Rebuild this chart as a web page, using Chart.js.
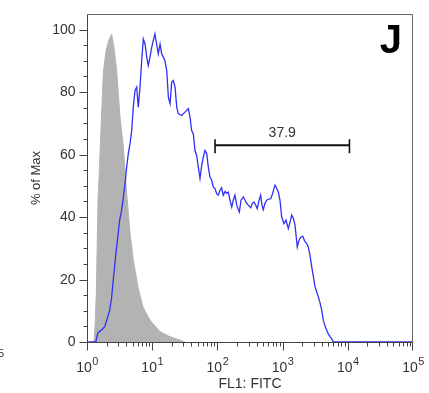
<!DOCTYPE html>
<html><head><meta charset="utf-8">
<script src="https://cdn.jsdelivr.net/npm/chart.js@4/dist/chart.umd.min.js"></script>
<style>html,body{margin:0;padding:0;background:#fff;}canvas{display:block;}</style>
</head><body>
<canvas id="c" width="429" height="393"></canvas>
<script>
// ---- data ----
const grayX = [1.28, 1.33, 1.39, 1.43, 1.475, 1.55, 1.62, 1.70, 1.78, 1.96, 2.15, 2.39, 2.6, 2.85, 3.21, 3.61, 4.06, 4.57, 5.13, 6.06, 7.22, 9.25, 13.2, 18.7, 26.7, 32];
const grayY = [0, 5, 15.6, 30, 45.4, 55, 65.5, 76, 86, 93.3, 96.5, 98.6, 94, 86.9, 72, 62.4, 47.6, 34.8, 26.2, 17.6, 11.2, 7, 3.3, 1.7, 0.6, 0];

const blueX = [1.05, 1.36, 1.47, 1.7, 1.87, 2.05, 2.23, 2.38, 2.5, 2.65, 2.81, 3.0, 3.17, 3.38, 3.57, 3.83, 4.06, 4.30, 4.57, 4.85, 5.13, 5.45, 5.78, 6.12, 6.50, 6.90, 7.31, 7.76, 8.24, 8.71, 9.25, 9.82, 10.4, 11.0, 11.7, 12.4, 13.2, 14.0, 14.8, 15.7, 16.7, 17.7, 18.8, 19.9, 21.1, 22.4, 23.8, 25.1, 28.3, 31.8, 35.8, 38.0, 40.3, 42.7, 45.3, 48.1, 51.0, 54.1, 57.4, 60.8, 64.5, 68.5, 72.5, 77.0, 81.8, 86.5, 91.8, 97.5, 103, 110, 116, 123, 131, 139, 147, 156, 166, 175, 186, 198, 209, 217, 230, 250, 265, 281, 298, 324, 343, 364, 387, 409, 435, 461, 483, 506, 537, 570, 604, 658, 697, 738, 764, 812, 859, 912, 968, 1050, 1128, 1223, 1298, 1377, 1459, 1549, 1680, 1785, 1895, 2033, 2181, 2342, 2478, 2631, 2793, 2958, 3141, 3335, 3532, 3750, 3981, 4211, 4471, 4746, 5023, 5333, 5662, 5998, 100000];
const blueY = [0, 0, 2.9, 4, 4.9, 7.5, 10.2, 14, 18.8, 24, 29.4, 34.5, 39, 42, 45.4, 50.8, 56, 60.3, 63.5, 67.7, 75.2, 80.5, 81.6, 75.2, 81.6, 90.1, 97.0, 95.4, 91.2, 88.5, 91.2, 94.3, 96.5, 98.6, 95.4, 92.2, 95.4, 92.2, 91.2, 90.1, 86.9, 78.4, 76.3, 83.2, 83.7, 81.6, 75.2, 73.1, 72.5, 73.6, 74.7, 72, 67.7, 66.7, 61.3, 59.7, 56, 52.4, 56.5, 59.2, 61.3, 60.4, 56, 52.8, 51.8, 49.6, 49.1, 47.5, 47, 48.6, 49.4, 47, 48.2, 47.6, 48, 45.4, 43.2, 45.4, 47, 43.8, 42.4, 41.6, 45.4, 46.4, 45.4, 44.4, 43.8, 43, 44.4, 44.8, 43.8, 42.7, 45.4, 47, 43.8, 42.4, 44.4, 45.4, 45.7, 45.9, 47.3, 49.2, 50.2, 49.2, 48, 45.4, 40, 37.9, 39, 36.3, 38.3, 40.6, 39.6, 37.4, 30.4, 32.6, 33.5, 33.9, 32.3, 31.5, 30.4, 27.8, 24.1, 21.1, 17.7, 16, 14.5, 12.5, 10.2, 7.0, 5.1, 3.8, 2.6, 1.7, 1.0, 0, 0];

const yTickValues = [0, 20, 40, 60, 80, 100];
const yTickLabels = ["0", "20", "40", "60", "80", "100"];
const xTickValues = [1, 10, 100, 1000, 10000, 100000];
const xTickBase = ["10", "10", "10", "10", "10", "10"];
const xTickExp = ["0", "1", "2", "3", "4", "5"];
const xTitle = "FL1: FITC";
const yTitle = "% of Max";
const gateRange = [92, 10600];
const gateLevel = 63;
const gateLabel = "37.9";
const panelLabel = "J";

const pts = (xs, ys) => xs.map((v, i) => ({x: v, y: ys[i]}));

const FONT = '"Liberation Sans", Arial, sans-serif';

const decor = {
  id: 'decor',
  afterDatasetsDraw(chart) {
    const {ctx, chartArea: a, scales: {x, y}} = chart;
    ctx.save();
    const L = Math.round(a.left) + 0.5, R = Math.round(a.right) - 0.5;
    const T = Math.round(a.top) + 0.5, B = Math.round(a.bottom) + 0.5;
    ctx.strokeStyle = '#666'; ctx.lineWidth = 1;
    ctx.beginPath();
    ctx.moveTo(L, T); ctx.lineTo(R, T); ctx.lineTo(R, B);
    ctx.stroke();
    ctx.strokeStyle = '#444';
    ctx.beginPath();
    ctx.moveTo(L, T); ctx.lineTo(L, B); ctx.lineTo(R, B);
    ctx.stroke();
    ctx.beginPath();
    for (let v = 0; v <= 100; v += 5) {
      const py = Math.round(y.getPixelForValue(v)) + 0.5;
      const len = (v % 20 === 0) ? 8 : 4;
      ctx.moveTo(L, py); ctx.lineTo(L - len, py);
    }
    for (let d = 0; d < 5; d++) {
      for (let m = 1; m <= 9; m++) {
        const v = m * Math.pow(10, d);
        const px = Math.round(x.getPixelForValue(v)) + 0.5;
        const len = (m === 1) ? 8 : 4;
        ctx.moveTo(px, B); ctx.lineTo(px, B + len);
      }
    }
    {
      const px = Math.round(x.getPixelForValue(1e5)) - 0.5;
      ctx.moveTo(px, B); ctx.lineTo(px, B + 8);
    }
    ctx.stroke();
    ctx.fillStyle = '#333';
    ctx.font = '14px ' + FONT;
    ctx.textAlign = 'right'; ctx.textBaseline = 'middle';
    yTickValues.forEach((v, i) => {
      ctx.fillText(yTickLabels[i], L - 12, y.getPixelForValue(v) + 0.5);
    });
    ctx.textBaseline = 'alphabetic'; ctx.textAlign = 'left';
    xTickValues.forEach((v, i) => {
      ctx.font = '14px ' + FONT;
      const wb = ctx.measureText(xTickBase[i]).width;
      ctx.font = '11px ' + FONT;
      const ws = ctx.measureText(xTickExp[i]).width;
      const px = x.getPixelForValue(v);
      const sx = px - (wb + ws) / 2;
      ctx.font = '14px ' + FONT;
      ctx.fillText(xTickBase[i], sx, 372);
      ctx.font = '11px ' + FONT;
      ctx.fillText(xTickExp[i], sx + wb + 0.5, 365);
    });
    ctx.font = '14px ' + FONT;
    ctx.textAlign = 'center';
    ctx.fillText(xTitle, (a.left + a.right) / 2, 388);
    ctx.save();
    ctx.translate(40, (a.top + a.bottom) / 2);
    ctx.rotate(-Math.PI / 2);
    ctx.font = '13px ' + FONT;
    ctx.fillText(yTitle, 0, 0);
    ctx.restore();
    const gx1 = x.getPixelForValue(gateRange[0]);
    const gx2 = x.getPixelForValue(gateRange[1]);
    const gy = y.getPixelForValue(gateLevel);
    ctx.strokeStyle = '#111';
    ctx.lineWidth = 2;
    ctx.beginPath(); ctx.moveTo(gx1, gy); ctx.lineTo(gx2, gy); ctx.stroke();
    ctx.lineWidth = 1.6;
    ctx.beginPath();
    ctx.moveTo(gx1, gy - 6); ctx.lineTo(gx1, gy + 8);
    ctx.moveTo(gx2, gy - 6); ctx.lineTo(gx2, gy + 8);
    ctx.stroke();
    ctx.fillStyle = '#333';
    ctx.font = '14px ' + FONT;
    ctx.textAlign = 'center';
    ctx.fillText(gateLabel, (gx1 + gx2) / 2, gy - 8);
    ctx.fillStyle = '#000';
    ctx.font = 'bold 40px ' + FONT;
    ctx.textAlign = 'right';
    ctx.fillText(panelLabel, a.right - 11, 53);
    ctx.fillStyle = '#333';
    ctx.font = '11px ' + FONT;
    ctx.textAlign = 'left';
    ctx.fillText("5", -2, 357);
    ctx.restore();
  }
};

new Chart(document.getElementById('c'), {
  type: 'line',
  data: {
    datasets: [
      {
        label: 'sample',
        data: pts(blueX, blueY),
        borderColor: '#3030f5',
        borderWidth: 1.3,
        pointRadius: 0,
        fill: false,
        tension: 0
      },
      {
        label: 'control',
        data: pts(grayX, grayY),
        borderColor: '#b3b3b3',
        backgroundColor: '#b3b3b3',
        borderWidth: 1,
        pointRadius: 0,
        fill: 'origin',
        tension: 0
      }
    ]
  },
  options: {
    responsive: false,
    animation: false,
    layout: {padding: {left: 87, right: 16, top: 14, bottom: 51}},
    plugins: {legend: {display: false}, tooltip: {enabled: false}},
    scales: {
      x: {type: 'logarithmic', min: 1, max: 100000, display: false},
      y: {type: 'linear', min: 0, max: 105, display: false}
    }
  },
  plugins: [decor]
});
</script>
</body></html>
